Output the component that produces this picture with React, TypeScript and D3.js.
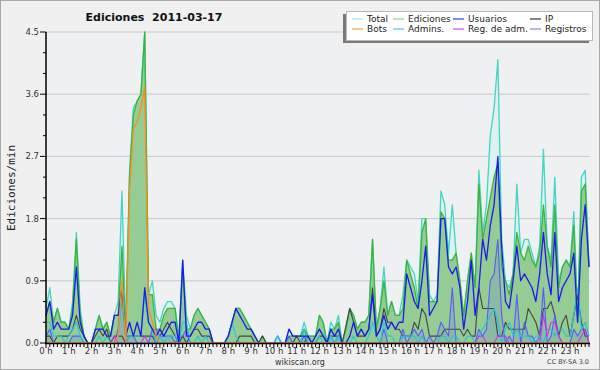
import * as d3 from 'd3';

// 10-minute buckets, 144 per day (edits per minute)
const total = [
  .5, .8, .3, .5, .3, .3, .2, .6, 1.6, .5, .1, 0, 0, .2, .4, .2, .3, .1, .4, .6, 2.2, .2, 2.5, 3.4,
  3.5, 3.6, 4.5, .7, .9, .4, .3, .5, .6, .6, .5, .1, 1.2, .4, .2, .4, .5, .4, .3, .2, 0, 0, 0, 0,
  .1, .3, .5, .5, .4, .3, .2, .1, 0, .1, 0, 0, 0, .1, 0, 0, .2, .1, .1, .1, .3, .1, .1, .1,
  .4, .3, 0, .3, .2, .4, 0, .2, .5, .4, .2, .3, .3, .4, 1.5, .2, .5, 1.1, .4, .6, .4, .4, .7, 1.2,
  1.1, 1.0, .6, 1.8, 1.8, .7, .6, .7, 2.2, 2.0, 1.3, 2.0, 1.3, .9, .4, .9, 1.3, .8, 2.5, 1.6, 2.0, 3.0, 3.4, 4.1,
  1.5, .9, .8, 1.0, 2.3, 1.3, 1.5, 1.5, 1.3, 1.1, 1.4, 2.8, 1.4, 1.2, 2.4, .9, 1.1, 1.2, 1.1, 1.9, .4, 2.4, 2.5, 1.1,
];
const ediciones = [
  .4, .6, .3, .5, .3, .3, .2, .5, 1.5, .4, .1, 0, 0, .2, .4, .2, .3, .1, .4, .4, 1.4, .1, 2.4, 3.3,
  3.5, 3.6, 4.5, .7, .7, .2, .2, .4, .5, .5, .5, 0, 1.1, .2, .2, .4, .5, .4, .3, .2, 0, 0, 0, 0,
  .1, .3, .5, .5, .4, .3, .2, .1, 0, .1, 0, 0, 0, 0, 0, 0, .1, .1, .1, .1, .2, .1, .1, .1,
  .4, .3, 0, .2, .2, .3, 0, .2, .5, .4, .2, .3, .3, .4, 1.5, .2, .5, .9, .4, .6, .4, .4, .5, 1.2,
  1.0, .8, .5, 1.6, 1.8, .6, .6, .6, 1.9, 1.8, 1.2, 1.2, 1.3, .9, .4, .9, 1.3, .8, 2.3, 1.5, 1.8, 2.1, 2.4, 2.6,
  1.1, .9, .7, 1.0, 1.6, 1.3, 1.2, 1.4, 1.2, 1.1, 1.3, 2.0, 1.4, 1.1, 2.0, .8, 1.1, 1.2, 1.1, 1.7, .3, 2.2, 2.3, 1.1,
];
const usuarios = [
  .4, .6, .2, .3, .2, .2, .2, .4, 1.1, .3, .1, 0, 0, .2, .2, .2, .1, .1, .4, .4, .8, .1, .3, .1,
  .3, .1, .8, .3, .2, .1, .2, .1, .2, .3, .3, 0, 1.2, .1, .1, .2, .3, .3, .2, .2, 0, 0, 0, 0,
  .1, .3, .5, .4, .3, .2, .2, .1, 0, 0, 0, 0, 0, 0, 0, 0, .2, .1, .1, .1, .1, .1, 0, .1,
  .2, .1, 0, .2, .1, .2, 0, 0, .1, .3, .1, .2, .1, .2, .7, .1, .2, .4, .2, .3, .2, .3, .3, 1.0,
  .8, .6, .5, .9, 1.4, .4, .5, .6, 1.8, 1.8, 1.1, 1.0, 1.1, .8, .2, .6, 1.2, .4, .8, 1.5, 1.2, 1.7, 2.0, 2.7,
  1.4, .6, .5, .9, 1.4, .9, 1.0, .9, .8, .6, 1.0, 1.6, 1.0, .7, 1.6, .6, .8, .9, 1.0, 1.3, .3, 1.5, 2.0, 1.1,
];
const ip = [
  .1, .1, 0, .1, .1, .1, .1, .2, .4, .2, .1, 0, 0, .1, .2, .1, .2, 0, .1, .1, .1, 0, .1, .1,
  .1, .1, .1, .1, .1, 0, .1, .2, .3, .2, .1, 0, .1, 0, .1, .2, .2, .1, .1, .1, 0, 0, 0, 0,
  0, 0, 0, .1, .1, .1, .1, 0, 0, .1, 0, 0, 0, 0, 0, 0, 0, 0, .1, 0, 0, .1, 0, 0,
  .1, .1, 0, .1, .1, .1, 0, .25, .5, .3, .1, .1, .1, .2, .8, .1, .2, .5, .3, .3, .2, .2, .1, .1,
  .1, .3, .2, .5, .4, .1, .1, .1, .1, .2, .2, .2, .2, .2, .1, .2, .1, .1, .8, .5, .5, .5, .5, .1,
  .1, .3, .2, .2, .2, .2, .2, .5, .4, .3, .1, .5, .5, .6, .4, .1, .3, .4, .1, .4, .7, .3, .1, .1,
];
const bots = [
  0, 0, 0, 0, 0, 0, 0, 0, 0, 0, 0, 0, 0, 0, 0, 0, 0, 0, 0, .1, .9, 0, 2.2, 3.1,
  3.2, 3.4, 3.7, .5, .3, .1, 0, 0, 0, 0, 0, 0, 0, 0, 0, 0, 0, 0, 0, 0, 0, 0, 0, 0,
  0, 0, 0, 0, 0, 0, 0, 0, 0, 0, 0, 0, 0, 0, 0, 0, 0, 0, 0, 0, 0, 0, 0, 0,
  0, 0, 0, 0, 0, 0, 0, 0, 0, 0, 0, 0, 0, 0, 0, 0, 0, 0, 0, 0, 0, 0, 0, 0,
  0, 0, 0, 0, 0, 0, 0, 0, 0, 0, 0, 0, 0, 0, 0, 0, 0, 0, 0, 0, 0, 0, 0, 0,
  0, 0, 0, 0, 0, 0, 0, 0, 0, 0, 0, 0, 0, 0, 0, 0, 0, 0, 0, 0, 0, 0, 0, 0,
];
const admins = [
  .3, .3, .1, .1, .1, 0, .1, .2, .3, .1, 0, 0, 0, 0, .1, 0, .1, 0, 0, .1, .6, 0, .1, .1,
  .1, .1, .7, .3, .2, 0, .1, 0, .1, .1, .1, 0, .3, .3, 0, 0, .1, 0, .1, 0, 0, 0, 0, 0,
  .1, .3, .1, 0, 0, 0, 0, 0, 0, 0, 0, 0, 0, .1, 0, 0, 0, 0, 0, 0, .2, 0, 0, 0,
  .1, 0, 0, .1, 0, .1, 0, 0, 0, .1, 0, 0, 0, .1, .3, .1, 0, .3, .1, .1, 0, 0, .1, .1,
  .1, .1, 0, .1, 0, 0, 0, 0, .1, .1, 0, .1, .1, 0, 0, .1, .1, 0, .1, .2, .3, .4, .5, .3,
  0, .2, .3, .1, .2, .1, .1, .1, 0, .1, .1, 0, .2, .2, .1, .2, .2, .1, .1, .4, .8, .2, .3, .1,
];
const regAdm = [
  0, 0, 0, 0, 0, 0, 0, 0, 0, 0, 0, 0, 0, 0, 0, 0, 0, 0, .1, 0, 0, 0, 0, 0,
  0, 0, .1, 0, 0, 0, 0, 0, 0, 0, 0, 0, 0, 0, 0, 0, 0, 0, 0, 0, 0, 0, 0, 0,
  0, 0, 0, 0, 0, 0, 0, 0, 0, 0, 0, 0, 0, 0, 0, 0, 0, 0, 0, 0, 0, 0, 0, 0,
  0, 0, 0, 0, 0, 0, 0, 0, 0, 0, 0, 0, 0, 0, 0, 0, 0, 0, 0, 0, 0, 0, 0, 0,
  0, 0, 0, 0, 0, 0, 0, 0, 0, 0, 0, 0, 0, 0, 0, 0, 0, 0, .1, .1, 0, 0, 0, .1,
  .1, .1, 0, 0, 0, 0, 0, 0, 0, 0, 0, .4, .1, .3, .3, .1, 0, 0, 0, 0, 0, .1, .2, 0,
];
const registros = [
  .1, .2, 0, 0, 0, 0, 0, .1, .1, .1, 0, 0, 0, 0, 0, 0, 0, 0, 0, .2, .8, .1, .1, .1,
  0, 0, 0, 0, .2, .2, .1, .1, .1, .1, 0, .1, .1, .2, 0, 0, 0, 0, 0, 0, 0, 0, 0, 0,
  0, 0, 0, 0, 0, 0, 0, 0, 0, 0, 0, 0, 0, .1, 0, 0, .1, 0, 0, 0, .1, 0, 0, 0,
  0, 0, 0, .1, 0, .1, 0, 0, 0, 0, 0, 0, 0, 0, 0, 0, 0, .2, 0, 0, 0, 0, .2, 0,
  .1, .2, .1, .2, 0, .1, 0, .1, .3, .2, .1, .8, 0, 0, 0, 0, 0, 0, .2, .1, .2, .9, 1.0, 1.5,
  .4, 0, .1, 0, .7, 0, .3, .1, .1, 0, .1, .8, 0, .1, .4, .1, 0, 0, 0, .2, .1, .2, .2, 0,
];

const yTicks = [0, 0.9, 1.8, 2.7, 3.6, 4.5];
const hours = d3.range(24);

const legendItems = [
  { name: 'Total', color: '#a8e4e0' },
  { name: 'Ediciones', color: '#8cd48c' },
  { name: 'Usuarios', color: '#3838e8' },
  { name: 'IP', color: '#333333' },
  { name: 'Bots', color: '#f8a040' },
  { name: 'Admins.', color: '#4cc8e0' },
  { name: 'Reg. de adm.', color: '#d050e8' },
  { name: 'Registros', color: '#8080f0' },
];

const font = 'DejaVu Sans, Verdana, sans-serif';

export default function App() {
  const x = d3.scaleLinear().domain([0, 143]).range([46, 589]);
  const y = d3.scaleLinear().domain([0, 4.5]).range([343, 32]);

  const line = d3.line<number>().x((_, i) => x(i)).y((d) => y(d));
  const area = d3.area<number>().x((_, i) => x(i)).y0(y(0)).y1((d) => y(d));

  const lines: [number[], string, number][] = [
    [total, '#44d4c4', 1.3],
    [ediciones, '#3cb43c', 1.3],
    [ip, '#444444', 1.1],
    [registros, '#5a5aff', 1.1],
    [admins, '#22c4dc', 1.1],
    [regAdm, '#cc33ee', 1.1],
    [usuarios, '#1a1aee', 1.3],
    [bots, '#ff8c1a', 1.3],
  ];

  const colX = [352, 393, 453, 530];
  const rowY = [19, 29];

  return (
    <svg width={600} height={370} style={{ position: 'absolute', left: 0, top: 0 }}>
      <rect x={0.5} y={0.5} width={599} height={369} fill="#f0f0f0" stroke="#a8a8a8" />
      <rect x={46} y={32} width={544} height={311} fill="#eef0f1" />

      {yTicks.slice(1).map((t) => (
        <line key={t} x1={46} x2={590} y1={y(t)} y2={y(t)} stroke="#c8c8c8" strokeWidth={1} />
      ))}

      <path d={area(total) ?? ''} fill="#dcf2ee" />
      <path d={area(ediciones) ?? ''} fill="#94cc94" />
      <path d={area(registros) ?? ''} fill="rgba(90,90,255,0.15)" />

      {lines.map(([data, color, w], k) => (
        <path key={k} d={line(data) ?? ''} fill="none" stroke={color} strokeWidth={w} strokeLinejoin="round" />
      ))}

      {/* y axis */}
      <line x1={46} x2={46} y1={32} y2={344} stroke="#000" strokeWidth={1.5} />
      {d3.range(0, 16).map((k) => {
        const v = k * 0.3;
        const major = k % 3 === 0;
        return (
          <line key={k} x1={major ? 40 : 43} x2={46} y1={y(v)} y2={y(v)} stroke="#000" strokeWidth={1} />
        );
      })}
      {yTicks.map((t) => (
        <text key={t} x={39} y={y(t)} dy="0.35em" textAnchor="end" fontFamily={font} fontSize={8.5} fill="#333">
          {t.toFixed(1)}
        </text>
      ))}
      <text
        transform="translate(15,188) rotate(-90)"
        textAnchor="middle"
        fontFamily="DejaVu Sans Mono, monospace"
        fontSize={11}
        fill="#222"
      >
        Ediciones/min
      </text>

      {/* x axis */}
      <line x1={45} x2={590} y1={343.5} y2={343.5} stroke="#000" strokeWidth={1.6} />
      {d3.range(0, 144).map((i) => (
        <line key={i} x1={x(i)} x2={x(i)} y1={343} y2={i % 6 === 0 ? 348 : 347} stroke="#000" strokeWidth={1} />
      ))}
      {hours.map((h) => (
        <text key={h} x={x(h * 6)} y={354} textAnchor="middle" fontFamily={font} fontSize={8.5} fill="#333">
          {`${h} h`}
        </text>
      ))}

      {/* title */}
      <text x={154} y={21} textAnchor="middle" fontFamily={font} fontWeight="bold" fontSize={11} fill="#111" style={{ whiteSpace: 'pre' }}>
        {'Ediciones  2011-03-17'}
      </text>

      {/* legend */}
      <rect x={343} y={14} width={246} height={29} fill="#7a7a7a" />
      <rect x={346.5} y={11.5} width={246} height={29} fill="#fff" stroke="#b8b8b8" />
      {legendItems.map((it, k) => {
        const cx = colX[k % 4];
        const cy = rowY[Math.floor(k / 4)];
        return (
          <g key={it.name}>
            <line x1={cx} x2={cx + 11} y1={cy} y2={cy} stroke={it.color} strokeWidth={1.2} />
            <text x={cx + 15} y={cy} dy="0.35em" fontFamily={font} fontSize={9} fill="#222">
              {it.name}
            </text>
          </g>
        );
      })}

      <text x={300} y={362} dy="0.35em" textAnchor="middle" fontFamily={font} fontSize={8} fill="#333">
        wikiscan.org
      </text>
      <text x={589} y={362} dy="0.35em" textAnchor="end" fontFamily={font} fontSize={6.5} fill="#444">
        CC BY-SA 3.0
      </text>
    </svg>
  );
}
